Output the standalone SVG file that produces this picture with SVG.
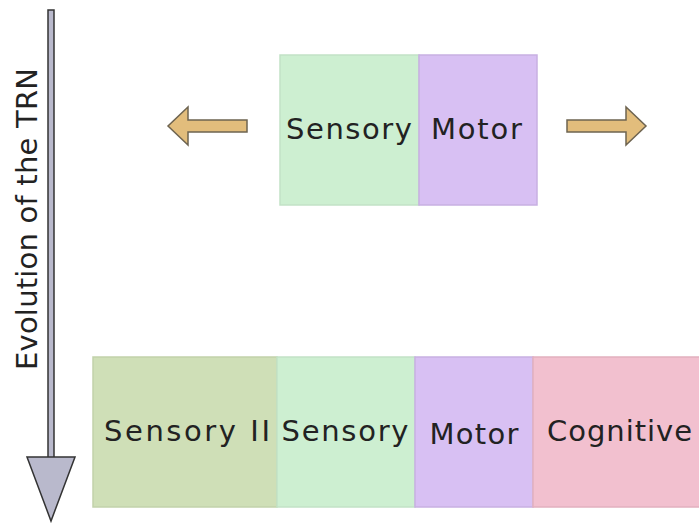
<svg xmlns="http://www.w3.org/2000/svg" width="699" height="524" viewBox="0 0 699 524">
<style>
text{font-family:"DejaVu Sans","Liberation Sans",sans-serif;font-size:29px;fill:#222;}
.sen{fill:#cdefd1;stroke:#c2e2c6;stroke-width:1.5}
.mot{fill:#d8c0f3;stroke:#c8b0e2;stroke-width:1.5}
.sen2{fill:#cfdfb7;stroke:#c2d2ab;stroke-width:1.5}
.cog{fill:#f2c0cf;stroke:#e2b0bf;stroke-width:1.5}
.tan{fill:#e2bd7c;stroke:#6e6450;stroke-width:1.5;stroke-linejoin:miter}
.evo{fill:#b9b9cc;stroke:#333;stroke-width:1.5}
</style>
<g id="evolution-arrow">
<rect class="evo" x="48" y="10" width="6" height="448"/>
<polygon class="evo" points="27,457 75,457 51,521"/>
<text transform="translate(37,219) rotate(-90)" text-anchor="middle" textLength="302" lengthAdjust="spacing">Evolution of the TRN</text>
</g>
<g id="top-sensory">
<rect class="sen" x="280" y="55" width="139" height="150"/>
<text x="349" y="139" text-anchor="middle" textLength="126" lengthAdjust="spacing">Sensory</text>
</g>
<g id="top-motor">
<rect class="mot" x="419" y="55" width="118" height="150"/>
<text x="476.5" y="139" text-anchor="middle" textLength="91" lengthAdjust="spacing">Motor</text>
</g>
<g id="connectors">
<polygon class="tan" points="247,120 188,120 188,107 168,126 188,145 188,132 247,132"/>
<polygon class="tan" points="567,120 626,120 626,107 646,126 626,145 626,132 567,132"/>
</g>
<g id="bottom-sensory2">
<rect class="sen2" x="93" y="357" width="184" height="150"/>
<text x="187" y="441" text-anchor="middle" textLength="166" lengthAdjust="spacing">Sensory II</text>
</g>
<g id="bottom-sensory">
<rect class="sen" x="277" y="357" width="138" height="150"/>
<text x="345" y="441" text-anchor="middle" textLength="127" lengthAdjust="spacing">Sensory</text>
</g>
<g id="bottom-motor">
<rect class="mot" x="415" y="357" width="118" height="150"/>
<text x="474" y="444" text-anchor="middle" textLength="89" lengthAdjust="spacing">Motor</text>
</g>
<g id="bottom-cognitive">
<rect class="cog" x="533" y="357" width="170" height="150"/>
<text x="547" y="441" textLength="145" lengthAdjust="spacing">Cognitive</text>
</g>
</svg>
